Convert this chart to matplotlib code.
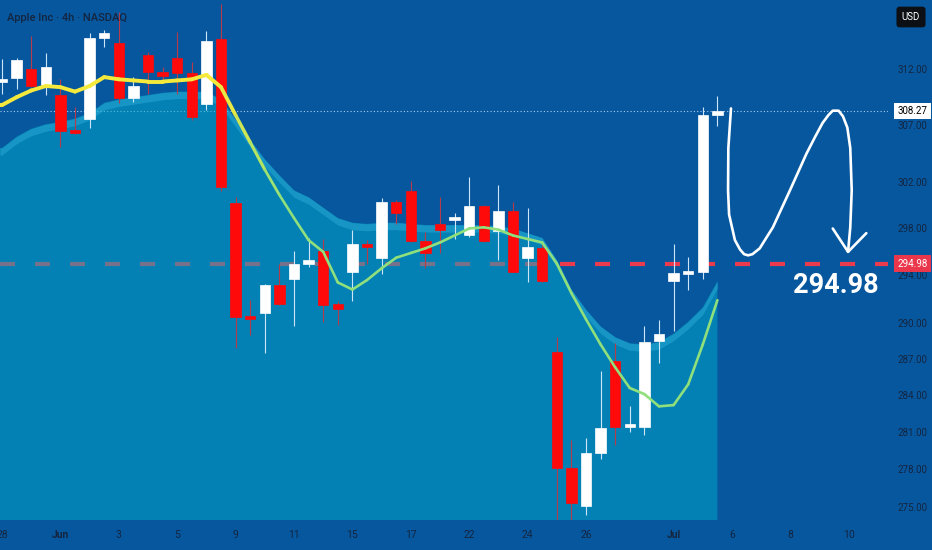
import numpy as np
import matplotlib
matplotlib.use('Agg')
import matplotlib.pyplot as plt
from matplotlib import font_manager
from matplotlib.collections import LineCollection
from matplotlib.colors import to_rgb
from matplotlib.patches import Rectangle
from matplotlib.ticker import FixedLocator, FixedFormatter, NullLocator

# AAPL 4h bars (28 May -> 2 Jul)
opens = [310.9, 311.2, 312.0, 310.6, 309.7, 306.5, 307.6, 314.8, 314.4, 309.4,
         313.3, 311.8, 313.0, 311.7, 308.9, 314.7, 300.2, 290.5, 290.8, 293.2,
         293.7, 295.0, 296.1, 291.6, 294.3, 296.7, 295.5, 300.3, 301.2, 296.9,
         298.4, 298.8, 297.4, 299.9, 297.8, 299.5, 295.5, 296.3, 287.6, 278.1,
         275.1, 279.3, 286.8, 281.5, 281.4, 288.5, 293.5, 294.2, 294.3, 307.9]
highs = [312.9, 313.0, 315.0, 313.5, 311.1, 308.6, 315.3, 315.6, 317.2, 311.3,
         313.6, 312.2, 315.4, 312.7, 315.5, 317.9, 300.7, 291.9, 293.3, 295.0,
         296.1, 297.2, 297.1, 291.8, 297.9, 297.0, 300.6, 300.5, 302.1, 297.7,
         300.7, 299.3, 302.5, 300.0, 301.8, 300.3, 299.8, 296.6, 288.8, 280.4,
         280.5, 286.0, 288.3, 283.1, 289.7, 290.2, 296.7, 295.6, 308.6, 309.6]
lows = [309.8, 310.2, 310.4, 309.7, 305.1, 306.2, 306.8, 314.0, 309.0, 309.1,
        309.8, 310.8, 309.8, 307.5, 308.4, 301.2, 287.9, 289.0, 287.5, 291.5,
        289.7, 294.7, 290.1, 289.8, 291.8, 295.0, 294.1, 298.4, 296.8, 294.6,
        295.9, 297.1, 297.3, 296.8, 295.3, 294.3, 293.4, 293.4, 273.8, 273.8,
        274.4, 278.8, 280.0, 281.0, 280.8, 286.7, 289.3, 292.8, 293.7, 306.9]
closes = [311.1, 312.8, 310.5, 312.2, 306.5, 306.4, 314.8, 315.3, 309.4, 310.5,
          311.8, 311.4, 311.7, 307.7, 314.6, 301.6, 290.5, 290.4, 293.2, 291.6,
          295.0, 295.3, 291.5, 291.2, 296.7, 296.4, 300.3, 299.3, 296.9, 295.9,
          297.9, 298.9, 299.9, 296.9, 299.5, 294.3, 296.4, 293.5, 278.1, 275.3,
          279.3, 281.3, 281.4, 281.6, 288.4, 289.1, 294.2, 294.3, 307.9, 308.27]

# fast moving average (yellow -> green line)
ma_fast = [308.8, 309.5, 310.1, 310.5, 310.4, 310.0, 310.5, 311.3, 311.1, 311.0,
           310.9, 310.9, 311.0, 311.1, 311.5, 310.4, 307.9, 305.5, 303.1, 300.9,
           298.9, 297.0, 296.0, 293.4, 292.8, 293.6, 294.6, 295.5, 295.9, 296.3,
           296.8, 297.4, 298.0, 298.1, 297.9, 297.4, 297.1, 296.8, 295.0, 292.5,
           290.3, 288.2, 286.3, 284.6, 284.1, 283.1, 283.2, 284.9, 288.2, 291.9]
# slow average = top of the shaded area
ma_slow = [305.0, 306.0, 306.7, 307.1, 307.3, 307.6, 308.1, 309.0, 309.3, 309.5,
           309.7, 309.9, 310.0, 310.0, 310.0, 309.3, 307.5, 305.7, 304.0, 302.6,
           301.3, 300.7, 299.8, 298.9, 298.5, 298.4, 298.5, 298.5, 298.4, 298.3,
           298.3, 298.3, 298.3, 298.3, 298.2, 298.0, 297.6, 297.2, 295.3, 292.8,
           291.1, 289.7, 288.8, 288.3, 288.2, 288.4, 289.1, 290.1, 291.3, 293.5]

date_pos = [0, 4, 8, 12, 16, 20, 24, 28, 32, 36, 40, 46, 50, 54, 58]
date_labels = ['28', 'Jun', '3', '5', '9', '11', '15', '17', '22', '24', '26',
               'Jul', '6', '8', '10']
price_ticks = [275, 278, 281, 284, 287, 290, 294, 298, 302, 307, 312]
last_price = 308.27
target = 294.98

# hand drawn path (bar index, price)
sketch_x = [49.93, 49.75, 49.73, 49.8, 50.0, 50.2, 50.55, 50.83, 51.1, 51.4, 51.9, 52.3,
            52.8, 53.97, 55.1, 55.7, 56.2, 56.6, 56.9, 57.3, 57.6, 57.9, 58.1, 58.2,
            58.1, 57.95]
sketch_y = [308.5, 305.0, 301.3, 299.2, 298.1, 297.0, 296.2, 295.8, 295.7, 295.8, 296.3, 297.1,
            298.1, 301.3, 304.5, 306.0, 307.2, 307.9, 308.3, 308.3, 307.8, 306.8, 305.0, 301.3,
            298.1, 296.0]
arrow_x = [56.9, 57.95, 59.2]
arrow_y = [298.0, 296.0, 297.6]

BG = '#07579f'
AREA = '#03abc9'
RED = '#ff0a0a'
TXT = '#14253f'

names = {f.name for f in font_manager.fontManager.ttflist}
FONT = next(n for n in ['Roboto', 'Liberation Sans', 'DejaVu Sans'] if n in names)
plt.rcParams['font.family'] = [FONT, 'DejaVu Sans']

fig = plt.figure(figsize=(9.32, 5.5), dpi=100, facecolor=BG)
ax = fig.add_axes([0, 30 / 550, 888 / 932, 520 / 550])
ax.set_facecolor(BG)
for s in ax.spines.values():
    s.set_visible(False)

idx = np.arange(len(closes))
xmin, xmax = -2 / 14.6, 886 / 14.6
ax.set_yscale('log')
ax.set_xlim(xmin, xmax)
ax.set_ylim(273.97, 318.3)

# level lines (below the shaded area so the dashes get muted inside it)
ax.axhline(target, color='#ea3a4e', lw=3, dashes=(3.6, 4.8), zorder=0.5)
ax.axhline(last_price, color='#a9cdee', lw=0.8, ls=(0, (1, 2)), zorder=0.6)

# shaded area under slow average with lighter rim
xf = np.r_[xmin, idx]
top = np.r_[ma_slow[0], ma_slow]
ax.fill_between(xf, 250, top, color=AREA, alpha=0.5, lw=0, zorder=1)
ax.fill_between(xf, top * np.exp(-7 / 3465), top, color='#3cc0e8', alpha=0.35, lw=0, zorder=1.1)

# candles
for i in idx:
    o, h, l, c = opens[i], highs[i], lows[i], closes[i]
    up = c >= o
    body = 'white' if up else RED
    wick = '#cde6f7' if up else '#b53a4a'
    ax.vlines(i, l, h, color=wick, lw=0.8, zorder=3)
    lo, hi = min(o, c), max(o, c)
    if hi / lo < 1.0006:
        lo, hi = lo * 0.9997, hi * 1.0003
    ax.add_patch(Rectangle((i - 0.36, lo), 0.72, hi - lo, facecolor=body,
                           edgecolor=body, lw=0.5, zorder=4))

# moving average, yellow fading to green
pts = np.column_stack([np.r_[xmin, idx], np.r_[ma_fast[0], ma_fast]])
segs = np.stack([pts[:-1], pts[1:]], axis=1)
mid = (pts[:-1, 0] + pts[1:, 0]) / 2
t = np.clip((mid - 15) / 4, 0, 1)[:, None]
cols = (1 - t) * np.array(to_rgb('#f5ea3c')) + t * np.array(to_rgb('#8fe07c'))
widths = 2.8 - 0.9 * t[:, 0]
ax.add_collection(LineCollection(segs, colors=cols, linewidths=widths,
                                 capstyle='round', joinstyle='round', zorder=5))

# hand drawn projection
ax.plot(sketch_x, sketch_y, color='white', lw=1.9, solid_capstyle='round',
        solid_joinstyle='round', zorder=6)
ax.plot(arrow_x, arrow_y, color='white', lw=1.9, solid_capstyle='round',
        solid_joinstyle='round', zorder=6)
ax.text(57.1, 293.1, '294.98', color='white', fontsize=19.5, ha='center', va='center',
        fontweight='bold', zorder=6)

# axes ticks
ax.xaxis.set_major_locator(FixedLocator(date_pos))
ax.xaxis.set_major_formatter(FixedFormatter(date_labels))
ax.yaxis.set_major_locator(FixedLocator(price_ticks))
ax.yaxis.set_major_formatter(FixedFormatter(['%.2f' % p for p in price_ticks]))
ax.yaxis.set_minor_locator(NullLocator())
ax.yaxis.tick_right()
ax.tick_params(axis='y', length=0, pad=7, labelsize=7, labelcolor=TXT)
ax.tick_params(axis='x', length=0, pad=7, labelsize=7.5, labelcolor=TXT)
for lab in ax.get_xticklabels():
    if lab.get_text() in ('Jun', 'Jul'):
        lab.set_fontweight('bold')

# price labels on the scale
ax.annotate('%.2f' % last_price, xy=(1, last_price), xycoords=('axes fraction', 'data'),
            xytext=(6.8, 0), textcoords='offset points', ha='left', va='center',
            fontsize=7, color='black', zorder=10, annotation_clip=False,
            bbox=dict(boxstyle='square,pad=0.35', fc='white', ec='none'))
ax.annotate('%.2f' % target, xy=(1, target), xycoords=('axes fraction', 'data'),
            xytext=(6.8, 0), textcoords='offset points', ha='left', va='center',
            fontsize=7, color='white', zorder=10, annotation_clip=False,
            bbox=dict(boxstyle='square,pad=0.35', fc='#eb374b', ec='none'))

fig.text(911 / 932, 1 - 17 / 550, 'USD', color='white', fontsize=7, ha='center', va='center',
         bbox=dict(boxstyle='round,pad=0.55,rounding_size=0.3', fc='#0c0f14', ec='none'))
fig.text(7 / 932, 1 - 18 / 550, 'Apple Inc · 4h · NASDAQ', color=TXT, fontsize=8,
         fontweight='medium', ha='left', va='center')

fig.savefig('out.png', dpi=100, facecolor=BG)
